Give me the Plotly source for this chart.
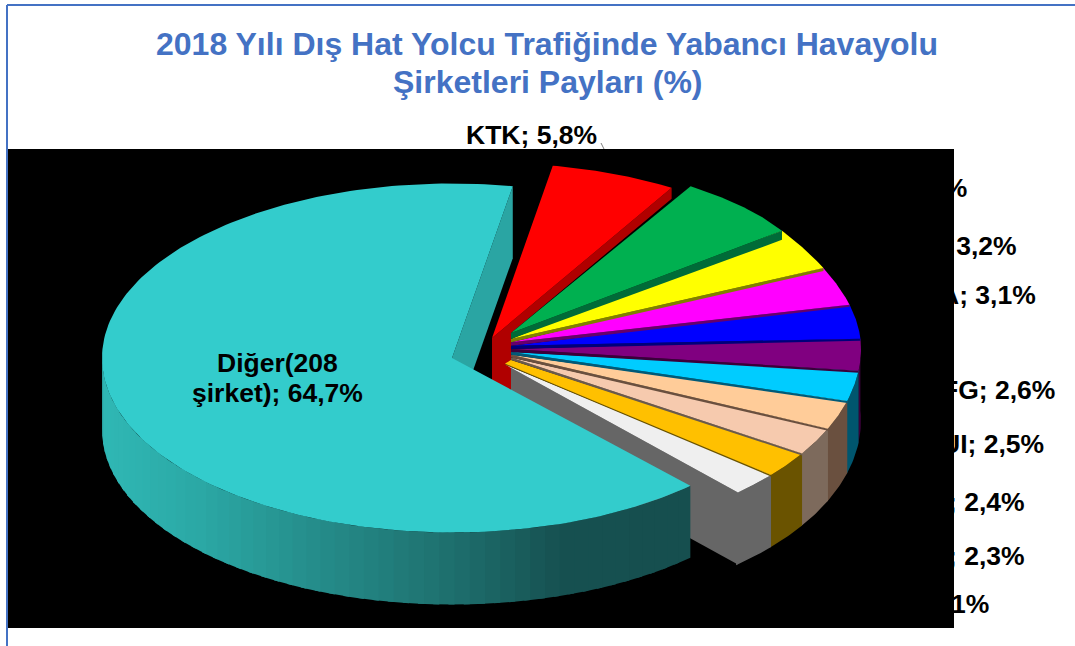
import numpy as np
import plotly.graph_objects as go

# ---------- data ----------
categories = ["KTK", "Yeşil", "Sarı", "Pembe", "Mavi", "Mor", "Turkuaz", "Şeftali", "Ten", "Altın", "Beyaz", "Diğer"]
values = [5.8, 5.5, 3.2, 3.1, 3.0, 2.8, 2.6, 2.5, 2.4, 2.3, 2.1, 64.7]
top_colors = ["#FF0000", "#00B050", "#FFFF00", "#FF00FF", "#0000FF", "#800080",
              "#00CCFF", "#FFCC99", "#F6CAAE", "#FFC000", "#EFEFEF", "#33CCCC"]
side_colors = ["#B00000", "#006B38", "#807F00", "#66006A", "#00007A", "#3A003A",
               "#005A78", "#6A503F", "#6A5A4C", "#6A5300", "#666666", "#2AA5A3"]
wall_colors = [None, None, None, None, None, "#3A003A",
               "#00566E", "#6A503F", "#7D6A5C", "#6A5300", "#666666", None]
side_thick = [11, 9, 3, 2, 2, 2, 2, 2, 2, 1.5, 0, 0]

label_texts = ["KTK; 5,8%", "5,5%", "; 3,2%", "A; 3,1%", "FG; 2,6%", "UI; 2,5%", "; 2,4%", "; 2,3%", "2,1%"]
other_lines = ["Diğer(208", "şirket); 64,7%"]
title_lines = ["2018 Yılı Dış Hat Yolcu Trafiğinde Yabancı Havayolu", "Şirketleri Payları (%)"]

# ---------- projection of the tilted pie ----------
W, H = 1075, 646
START = 10.0
DEPTH = 72
RX = 350
MAIN_C = (511, 348.5, 189)     # cx, cy, ry of unexploded slices
RED_C = (492, 338, 175)
TEAL_C = (452, 358, 174.5)
APEX_X = 511

wall_stops_x = [103, 200, 300, 440, 560, 690]
wall_stops_c = [(48, 184, 181), (43, 168, 165), (38, 144, 142), (31, 114, 112), (23, 81, 81), (22, 79, 79)]


def warp(t):
    return t + 2.5 * np.clip((t - 50) / 30, 0, 1)


def rim(t, c=MAIN_C, warped=True):
    t = np.asarray(t, dtype=float)
    tw = warp(t) if warped else t
    r = np.radians(tw)
    x = c[0] + RX * np.sin(r)
    y = c[1] - c[2] * np.cos(r)
    if warped:
        y = y + 5 * np.sin(np.pi * np.clip((tw - 45) / 45, 0, 1))
    return x, y


def apex_y(t):
    return 333 + (t - 31) * 0.3


fig = go.Figure()


def poly(x, y, color, name=None):
    fig.add_trace(go.Scatter(x=list(x), y=list(y), mode="lines", fill="toself",
                             fillcolor=color, line=dict(width=0),
                             hoverinfo="skip", name=name, showlegend=False))


angles = np.cumsum([0] + [v * 3.6 for v in values]) + START
n = len(values)
TEAL, WHITE, RED = n - 1, n - 2, 0

# outer walls of the unexploded slices (each reaches a little under its neighbour)
for i in range(n - 1):
    if wall_colors[i] is None:
        continue
    ts = np.linspace(angles[i], angles[i + 1] + 0.4, 14)
    x, y = rim(ts)
    poly(np.r_[x, x[::-1]], np.r_[y, (y + DEPTH)[::-1]], wall_colors[i], categories[i] + " duvar")

# radial wall of the white slice
xr, yr = rim(angles[WHITE + 1])
ax_w = APEX_X - 6
ay_w = apex_y(angles[WHITE]) + 2
poly([ax_w, xr, xr, ax_w], [ay_w, yr, yr + DEPTH, ay_w + DEPTH], side_colors[WHITE])

# wall below the exploded red slice
xr, yr = rim(angles[1], RED_C, False)
poly([RED_C[0], xr, xr, APEX_X, APEX_X, RED_C[0]],
     [RED_C[1], yr, yr + side_thick[0], apex_y(angles[1]), RED_C[1] + DEPTH, RED_C[1] + DEPTH], side_colors[RED])

# top surfaces, last slice first, each with its thin side strip
for i in range(WHITE, -1, -1):
    c = RED_C if i == RED else MAIN_C
    warped = i != RED
    ts = np.linspace(angles[i], angles[i + 1], 30)
    x, y = rim(ts, c, warped)
    if i == RED:
        ax, ay = c[0], c[1]
    elif i == WHITE:
        ax, ay = ax_w, ay_w
    else:
        ax, ay = APEX_X, apex_y(angles[i])
    if i == WHITE - 1:
        # the gold slice narrows down to the white slice's apex
        poly([ax, x[-1], x[-1], ax_w], [ay, y[-1], y[-1] + side_thick[i], ay_w], side_colors[i])
        poly(np.r_[ax, x, ax_w], np.r_[ay, y, ay_w - 1], top_colors[i], categories[i])
        continue
    if side_thick[i] and i != RED:
        poly([ax, x[-1], x[-1], ax], [ay, y[-1], y[-1] + side_thick[i], apex_y(angles[i + 1])], side_colors[i])
    poly(np.r_[ax, x], np.r_[ay, y], top_colors[i], categories[i])

# big slice: shaded outer wall (strips overlap so that no seams show)
t_a, t_b = angles[TEAL], angles[TEAL] + 135
edges = np.arange(t_a, t_b, 2.5)
for a, b in zip(edges[:-1], edges[1:]):
    ts = np.linspace(a, b + 1.0, 5)
    x, y = rim(ts, TEAL_C, False)
    xm = x.mean()
    col = [np.interp(xm, wall_stops_x, [s[k] for s in wall_stops_c]) for k in range(3)]
    poly(np.r_[x, x[::-1]], np.r_[y, (y + DEPTH)[::-1]], "rgb(%d,%d,%d)" % tuple(col))

# big slice: radial wall and top
xr, yr = rim(angles[-1] - 360, TEAL_C, False)
poly([TEAL_C[0], xr, xr, TEAL_C[0]], [TEAL_C[1], yr, yr + DEPTH, TEAL_C[1] + DEPTH], side_colors[TEAL])
ts = np.linspace(angles[TEAL], angles[-1], 200)
x, y = rim(ts, TEAL_C, False)
poly(np.r_[TEAL_C[0], x], np.r_[TEAL_C[1], y], top_colors[TEAL], categories[TEAL])

# KTK leader
fig.add_trace(go.Scatter(x=[601, 604], y=[143, 149], mode="lines", line=dict(color="#808080", width=1),
                         hoverinfo="skip", showlegend=False))

# labels
label_pos = [(599, 135), (969, 188), (1019, 246), (1038, 295), (1057, 390), (1046, 444), (1027, 502), (1027, 556), (991, 604)]
annots = []
for t, (px, py) in zip(label_texts, label_pos):
    annots.append(dict(x=px, y=py, xref="x", yref="y", text="<b>%s</b>" % t, showarrow=False,
                       xanchor="right", yanchor="middle", font=dict(size=26.5, color="black")))
for t, py in zip(other_lines, [363, 393]):
    annots.append(dict(x=277, y=py, xref="x", yref="y", text="<b>%s</b>" % t, showarrow=False,
                       xanchor="center", yanchor="middle", font=dict(size=26.5, color="black")))
for t, py in zip(title_lines, [44, 82]):
    annots.append(dict(x=547, y=py, xref="x", yref="y", text="<b>%s</b>" % t, showarrow=False,
                       xanchor="center", yanchor="middle", font=dict(size=32, color="#4472C4")))

shapes = [
    dict(type="rect", x0=8, x1=954, y0=149, y1=628, xref="x", yref="y", fillcolor="black", line_width=0, layer="below"),
    dict(type="line", x0=7, x1=7, y0=5, y1=646, xref="x", yref="y", line=dict(color="#4472C4", width=2), layer="below"),
    dict(type="line", x0=7, x1=1075, y0=5, y1=5, xref="x", yref="y", line=dict(color="#4472C4", width=2), layer="below"),
]

fig.update_layout(
    width=W, height=H, margin=dict(l=0, r=0, t=0, b=0), paper_bgcolor="white", plot_bgcolor="white",
    font=dict(family="Liberation Sans, Arial, sans-serif"),
    xaxis=dict(range=[0, W], visible=False, fixedrange=True),
    yaxis=dict(range=[H, 0], visible=False, fixedrange=True),
    showlegend=False, shapes=shapes, annotations=annots,
)
fig.write_html("out.html", config={"displayModeBar": False},
               post_script="document.body.style.margin='0';document.documentElement.style.overflow='hidden';")
